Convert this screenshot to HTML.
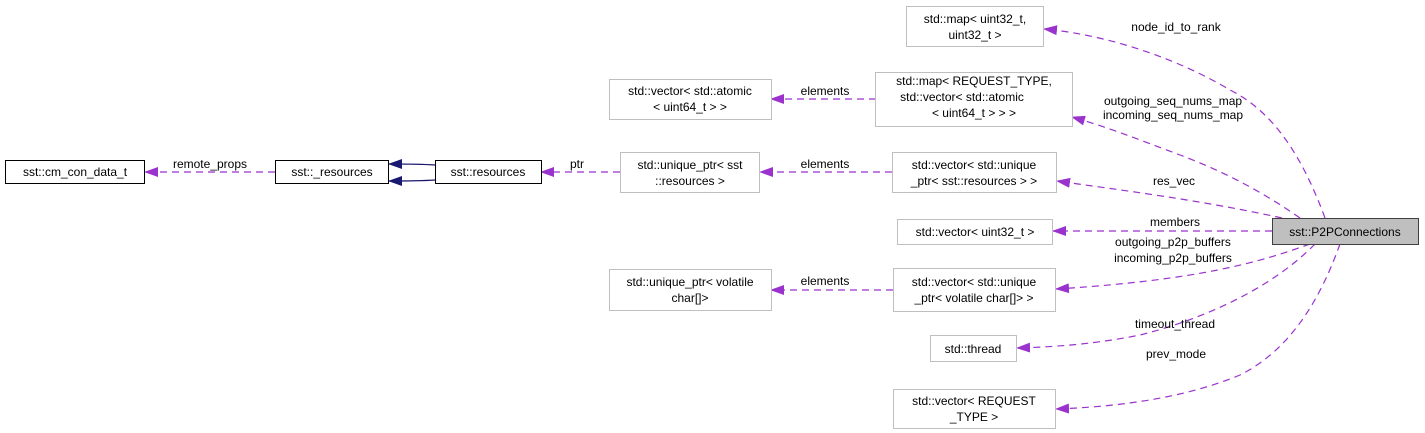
<!DOCTYPE html>
<html><head><meta charset="utf-8"><style>
html,body{margin:0;padding:0;background:#fff;}
svg{display:block;}
text{font-family:"Liberation Sans",sans-serif;font-size:12px;fill:#000;}
</style></head><body>
<svg width="1425" height="433" viewBox="0 0 1425 433" xmlns="http://www.w3.org/2000/svg">
<defs>
<marker id="ap" markerWidth="14" markerHeight="10" refX="13" refY="5" orient="auto" markerUnits="userSpaceOnUse">
<path d="M0,0 L14,5 L0,10 z" fill="#9a32cd"/></marker>
<marker id="an" markerWidth="14" markerHeight="10" refX="13" refY="5" orient="auto" markerUnits="userSpaceOnUse">
<path d="M0,0 L14,5 L0,10 z" fill="#191970"/></marker>
</defs>
<g fill="none" stroke="#9a32cd" stroke-dasharray="7,5" stroke-width="1.2">
<path d="M1325,218 C1300,150 1270,110 1230,90 C1180,60 1110,35 1044,29" marker-end="url(#ap)"/>
<path d="M1300,218 C1260,190 1220,170 1180,155 C1140,140 1110,128 1072,117" marker-end="url(#ap)"/>
<path d="M1282,218 C1200,200 1120,190 1057,181" marker-end="url(#ap)"/>
<path d="M1272,231 L1053,231" marker-end="url(#ap)"/>
<path d="M1310,244 C1260,262 1200,280 1056,289" marker-end="url(#ap)"/>
<path d="M1315,244 C1270,290 1200,320 1140,335 C1090,345 1050,347 1017,348" marker-end="url(#ap)"/>
<path d="M1340,244 C1320,300 1290,350 1240,375 C1180,400 1110,407 1056,409" marker-end="url(#ap)"/>
<path d="M876,99 L771,99" marker-end="url(#ap)"/>
<path d="M892,172 L760,172" marker-end="url(#ap)"/>
<path d="M893,290 L771,290" marker-end="url(#ap)"/>
<path d="M620,172 L541,172" marker-end="url(#ap)"/>
<path d="M275,172 L145,172" marker-end="url(#ap)"/>
</g>
<g fill="none" stroke="#191970" stroke-width="1.2">
<path d="M435,165 C420,164 405,164 389,164" marker-end="url(#an)"/>
<path d="M435,180 C420,181 405,181 389,181" marker-end="url(#an)"/>
</g>
<g fill="#fff" stroke="#bfbfbf" stroke-width="1">
<rect x="906.5" y="6.5" width="137" height="40"/>
<rect x="875.5" y="72.5" width="197" height="54"/>
<rect x="892.5" y="152.5" width="164" height="40"/>
<rect x="897.5" y="219.5" width="155" height="25"/>
<rect x="893.5" y="268.5" width="162" height="43"/>
<rect x="930.5" y="335.5" width="86" height="26"/>
<rect x="893.5" y="389.5" width="162" height="39"/>
<rect x="609.5" y="79.5" width="162" height="40"/>
<rect x="620.5" y="152.5" width="139" height="40"/>
<rect x="609.5" y="269.5" width="162" height="41"/>
</g>
<g fill="#fff" stroke="#000" stroke-width="1">
<rect x="5.5" y="160.5" width="139" height="23"/>
<rect x="275.5" y="160.5" width="113" height="23"/>
<rect x="435.5" y="160.5" width="106" height="23"/>
</g>
<rect x="1272.5" y="218.5" width="146" height="26" fill="#bfbfbf" stroke="#404040"/>
<g text-anchor="middle">
<text x="975" y="23">std::map&lt; uint32_t,</text>
<text x="975" y="39">uint32_t &gt;</text>
<text x="974" y="85">std::map&lt; REQUEST_TYPE,</text>
<text x="962" y="101">std::vector&lt; std::atomic</text>
<text x="974" y="117">&lt; uint64_t &gt; &gt; &gt;</text>
<text x="974" y="169">std::vector&lt; std::unique</text>
<text x="974" y="185">_ptr&lt; sst::resources &gt; &gt;</text>
<text x="975" y="236">std::vector&lt; uint32_t &gt;</text>
<text x="974" y="286">std::vector&lt; std::unique</text>
<text x="974" y="302">_ptr&lt; volatile char[]&gt; &gt;</text>
<text x="973" y="353">std::thread</text>
<text x="974" y="405">std::vector&lt; REQUEST</text>
<text x="974" y="421">_TYPE &gt;</text>
<text x="690" y="95">std::vector&lt; std::atomic</text>
<text x="690" y="111">&lt; uint64_t &gt; &gt;</text>
<text x="690" y="169">std::unique_ptr&lt; sst</text>
<text x="690" y="185">::resources &gt;</text>
<text x="690" y="286">std::unique_ptr&lt; volatile</text>
<text x="690" y="302">char[]&gt;</text>
<text x="75" y="176">sst::cm_con_data_t</text>
<text x="332" y="176">sst::_resources</text>
<text x="488" y="176">sst::resources</text>
<text x="1345" y="236">sst::P2PConnections</text>
<text x="1176" y="31">node_id_to_rank</text>
<text x="1173" y="105">outgoing_seq_nums_map</text>
<text x="1173" y="119">incoming_seq_nums_map</text>
<text x="1174" y="185">res_vec</text>
<text x="1175" y="226">members</text>
<text x="1173" y="246">outgoing_p2p_buffers</text>
<text x="1173" y="262">incoming_p2p_buffers</text>
<text x="1175" y="328">timeout_thread</text>
<text x="1176" y="358">prev_mode</text>
<text x="825" y="95">elements</text>
<text x="825" y="168">elements</text>
<text x="825" y="285">elements</text>
<text x="577" y="168">ptr</text>
<text x="210" y="168">remote_props</text>
</g>
</svg>
</body></html>
